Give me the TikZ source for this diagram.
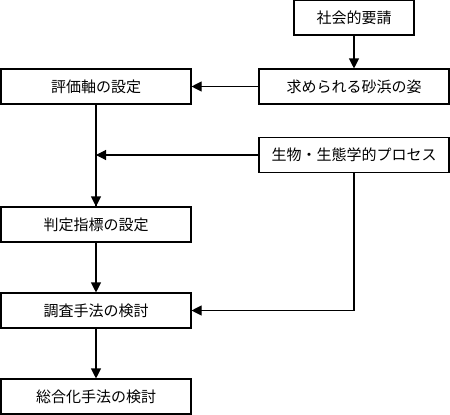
\documentclass[tikz,border=0pt]{standalone}
\usepackage{fontspec}
\newfontfamily\jpfont{Noto Sans CJK JP}
\usetikzlibrary{arrows.meta}

\begin{document}
\begin{tikzpicture}[x=1pt,y=-1pt,
        stepbox/.style={draw, line width=1.1pt, minimum height=35pt, inner sep=0pt, font=\jpfont\fontsize{15}{16}\selectfont},
        wide/.style={stepbox, minimum width=190pt},
        flow/.style={line width=1.1pt, -{Triangle[length=10pt,width=10pt]}}]
        \useasboundingbox (0,0) rectangle (450,415);
        \node [stepbox, minimum width=120pt] (social) at (354,17.5) {社会的要請};
        \node [wide] (beach) at (354,86.5) {求められる砂浜の姿};
        \node [wide] (axis) at (96,86.5) {評価軸の設定};
        \node [wide] (bio) at (354,155) {生物・生態学的プロセス};
        \node [wide] (index) at (96,224.5) {判定指標の設定};
        \node [wide] (survey) at (96,310.5) {調査手法の検討};
        \node [wide] (total) at (96,396.5) {総合化手法の検討};
        \coordinate (join) at (axis.south |- bio.west);
        \coordinate (turn) at (bio.south |- survey.east);
        \draw [flow] (social) -- (beach);
        \draw [flow] (beach) -- (axis);
        \draw [line width=1.1pt] (axis) -- (index);
        \draw [flow] (bio) -- (join);
        \draw [flow] (join) -- (index);
        \draw [flow] (index) -- (survey);
        \draw [flow] (bio.south) -- (turn) -- (survey.east);
        \draw [flow] (survey) -- (total);
    \end{tikzpicture}
\end{document}
